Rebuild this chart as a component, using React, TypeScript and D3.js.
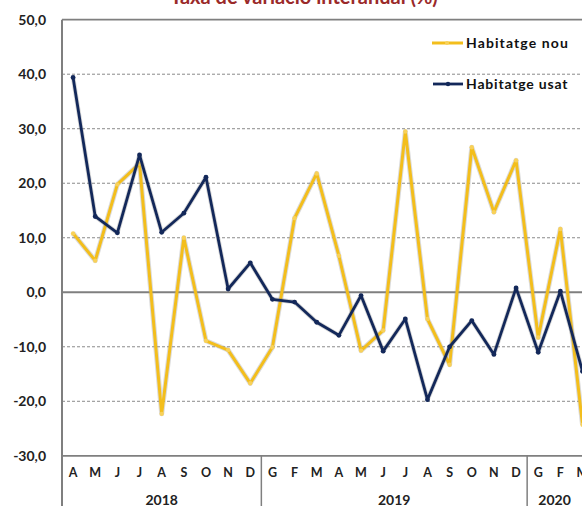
import React from "react";
import * as d3 from "d3";

const months = ["A","M","J","J","A","S","O","N","D","G","F","M","A","M","J","J","A","S","O","N","D","G","F","M"];
const yearLabels = ["2018", "2019", "2020"];
const yearStart = [0, 9, 21];
const yearCount = [9, 12, 3];
const nou = [10.8,5.8,19.8,23.6,-22.3,10.0,-8.9,-10.6,-16.7,-10.1,13.6,21.8,6.7,-10.7,-7.0,29.5,-4.9,-13.3,26.6,14.7,24.2,-8.3,11.6,-24.3];
const usat = [39.4,13.9,10.9,25.2,11.0,14.5,21.1,0.6,5.4,-1.3,-1.8,-5.5,-7.9,-0.6,-10.8,-4.9,-19.7,-10.0,-5.2,-11.4,0.8,-11.0,0.2,-14.5];
const yTicks = [-30,-20,-10,0,10,20,30,40,50];
const seriesNames = ["Habitatge nou", "Habitatge usat"];
const title = "Taxa de variació interanual (%)";

const W = 582, H = 506;
const left = 62, step = 22.15;
const YELLOW = "#F3BE1C";
const BLUE = "#13285A";
const GRID = "#8a8a8a";
const FONT = "Lato, 'DejaVu Sans', sans-serif";

export default function App() {
  const x = d3.scaleBand<number>().domain(d3.range(months.length)).range([left, left + months.length * step]);
  const y = d3.scaleLinear().domain([-30, 50]).range([455.8, 19.7]);
  const fmt = d3.formatLocale({ decimal: ",", thousands: ".", grouping: [3], currency: ["", "€"], minus: "-" }).format(".1f");
  const cx = (i: number) => (x(i) as number) + x.bandwidth() / 2;
  const line = d3.line<number>().x((_, i) => cx(i)).y((d) => y(d));
  const bottomY = y(-30);

  return (
    <svg width={W} height={H} style={{ position: "absolute", left: 0, top: 0, background: "#fff" }}>
      <defs>
        <clipPath id="clip"><rect x={0} y={0} width={W} height={H} /></clipPath>
      </defs>
      <text x={304} y={4} textAnchor="middle" fontFamily={FONT} fontWeight="bold" fontSize={20} fill="#9A2A2A">{title}</text>
      {yTicks.map((t) => {
        const solid = t === 0 || t === 50 || t === -30;
        return (
          <line key={t} x1={left} x2={W} y1={y(t)} y2={y(t)} stroke={solid ? "#7f7f7f" : GRID}
            strokeWidth={solid ? (t === 0 ? 2 : 1.8) : 1} strokeDasharray={solid ? undefined : "3,2"} />
        );
      })}
      {yTicks.map((t) => (
        <text key={"l" + t} x={46} y={y(t)} dy="0.35em" textAnchor="end" fontFamily={FONT} fontWeight="bold" fontSize={14} fill="#222">{fmt(t)}</text>
      ))}
      <line x1={left} x2={left} y1={y(50)} y2={H} stroke="#7f7f7f" strokeWidth={2} />
      {yearStart.slice(1).map((s) => (
        <line key={"s" + s} x1={x(s)} x2={x(s)} y1={bottomY} y2={H} stroke="#7f7f7f" strokeWidth={1.5} />
      ))}
      {months.map((m, i) => (
        <text key={"m" + i} x={cx(i)} y={472.5} dy="0.35em" textAnchor="middle" fontFamily={FONT} fontWeight="bold" fontSize={12.5} fill="#222">{m}</text>
      ))}
      {yearLabels.map((yl, k) => {
        const a = x(yearStart[k]) as number;
        const b = Math.min(W, a + yearCount[k] * step);
        return (
          <text key={yl} x={(a + b) / 2} y={500} dy="0.35em" textAnchor="middle" fontFamily={FONT} fontWeight="bold" fontSize={14} fill="#222">{yl}</text>
        );
      })}
      <g clipPath="url(#clip)">
        <path d={line(nou) || ""} fill="none" stroke="#999" strokeOpacity={0.35} strokeWidth={5} strokeLinejoin="round" />
        <path d={line(nou) || ""} fill="none" stroke={YELLOW} strokeWidth={3} strokeLinejoin="round" />
        {nou.map((v, i) => <circle key={"n" + i} cx={cx(i)} cy={y(v)} r={2.2} fill="#F8D15A" />)}
        <path d={line(usat) || ""} fill="none" stroke="#777" strokeOpacity={0.3} strokeWidth={4.5} strokeLinejoin="round" />
        <path d={line(usat) || ""} fill="none" stroke={BLUE} strokeWidth={2.8} strokeLinejoin="round" />
        {usat.map((v, i) => <circle key={"u" + i} cx={cx(i)} cy={y(v)} r={2.4} fill={BLUE} />)}
      </g>
      <line x1={432} x2={463} y1={43} y2={43} stroke={YELLOW} strokeWidth={3} />
      <circle cx={447} cy={43} r={2} fill="#F8D15A" />
      <text x={466} y={43} dy="0.35em" fontFamily={FONT} fontWeight="bold" fontSize={14} letterSpacing={1.1} fill="#111">{seriesNames[0]}</text>
      <line x1={433} x2={463} y1={84} y2={84} stroke={BLUE} strokeWidth={2.8} />
      <circle cx={448} cy={84} r={2.2} fill={BLUE} />
      <text x={466} y={84} dy="0.35em" fontFamily={FONT} fontWeight="bold" fontSize={14} letterSpacing={0.8} fill="#111">{seriesNames[1]}</text>
    </svg>
  );
}
